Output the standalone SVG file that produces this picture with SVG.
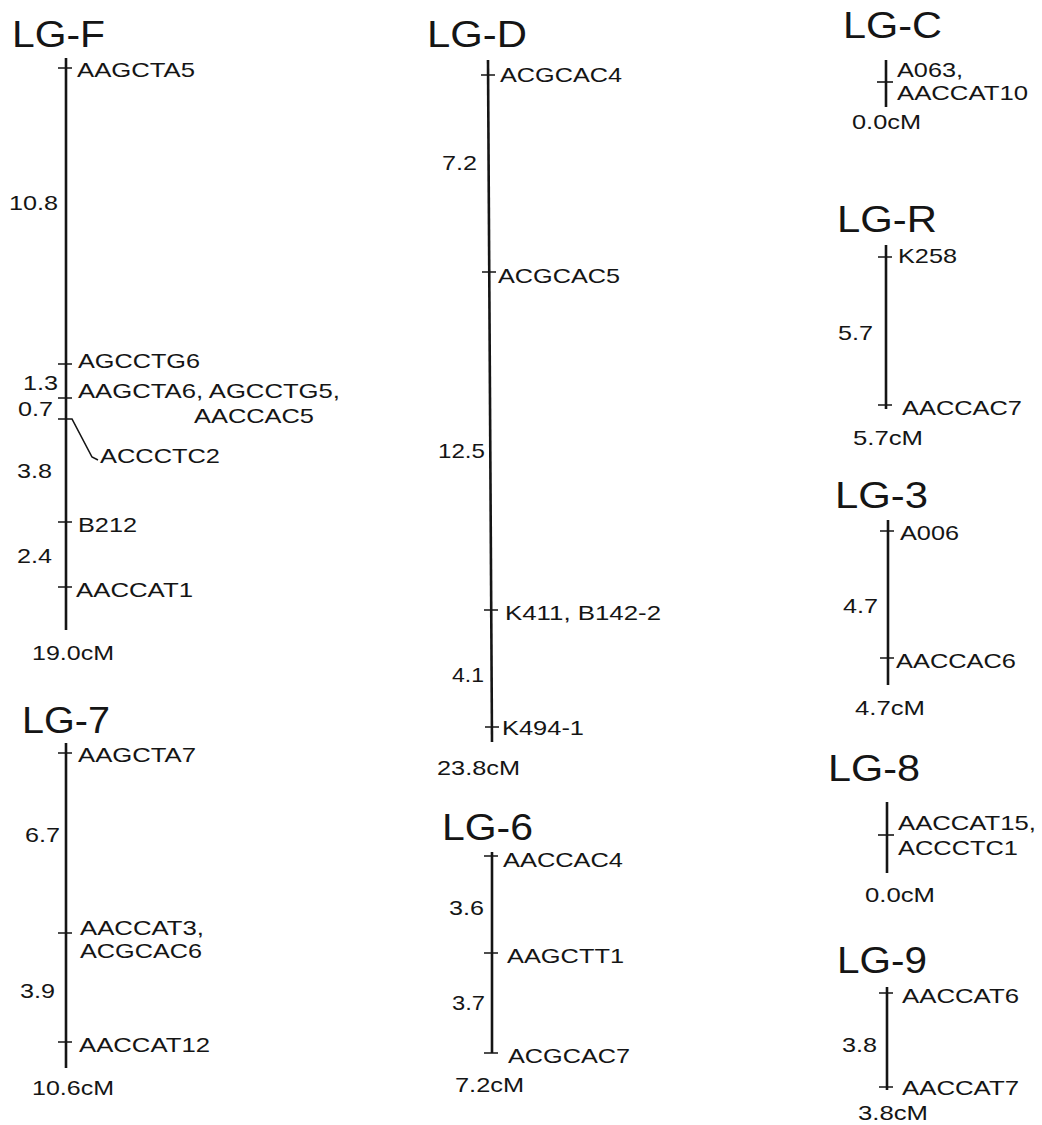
<svg xmlns="http://www.w3.org/2000/svg" width="1042" height="1125" viewBox="0 0 1042 1125">
<style>
text{font-family:"Liberation Sans",Arial,sans-serif;fill:#151515}
.t{font-size:37px}
.s{font-size:21px}
.ax{stroke:#151515;stroke-width:2.6;fill:none}
.tk{stroke:#151515;stroke-width:1.6;fill:none}
</style>
<rect width="1042" height="1125" fill="#fff"/>

<g id="LG-F">
<text class="t" x="12" y="47" textLength="93" lengthAdjust="spacingAndGlyphs">LG-F</text>
<line class="ax" x1="66" y1="58" x2="66" y2="630"/>
<path class="tk" d="M58 68H72M58 364H72M58 398H72M58 419H66M58 522H72M58 587H72"/>
<text class="s" x="77" y="77" textLength="118" lengthAdjust="spacingAndGlyphs">AAGCTA5</text>
<text class="s" x="9" y="210" textLength="49" lengthAdjust="spacingAndGlyphs">10.8</text>
<text class="s" x="78" y="368" textLength="122" lengthAdjust="spacingAndGlyphs">AGCCTG6</text>
<text class="s" x="23" y="390" textLength="35" lengthAdjust="spacingAndGlyphs">1.3</text>
<text class="s" x="78" y="398" textLength="262" lengthAdjust="spacingAndGlyphs">AAGCTA6, AGCCTG5,</text>
<text class="s" x="18" y="416" textLength="35" lengthAdjust="spacingAndGlyphs">0.7</text>
<text class="s" x="194" y="423" textLength="120" lengthAdjust="spacingAndGlyphs">AACCAC5</text>
<text class="s" x="100" y="463" textLength="120" lengthAdjust="spacingAndGlyphs">ACCCTC2</text>
<text class="s" x="17" y="478" textLength="35" lengthAdjust="spacingAndGlyphs">3.8</text>
<text class="s" x="78" y="532" textLength="59" lengthAdjust="spacingAndGlyphs">B212</text>
<text class="s" x="17" y="563" textLength="35" lengthAdjust="spacingAndGlyphs">2.4</text>
<text class="s" x="76" y="597" textLength="117" lengthAdjust="spacingAndGlyphs">AACCAT1</text>
<text class="s" x="32" y="660" textLength="82" lengthAdjust="spacingAndGlyphs">19.0cM</text>
</g>

<g id="LG-7">
<text class="t" x="22" y="733" textLength="88" lengthAdjust="spacingAndGlyphs">LG-7</text>
<line class="ax" x1="66" y1="743" x2="66" y2="1068"/>
<path class="tk" d="M58 753H72M58 933H72M58 1042H72"/>
<text class="s" x="78" y="762" textLength="118" lengthAdjust="spacingAndGlyphs">AAGCTA7</text>
<text class="s" x="25" y="842" textLength="35" lengthAdjust="spacingAndGlyphs">6.7</text>
<text class="s" x="80" y="935" textLength="124" lengthAdjust="spacingAndGlyphs">AACCAT3,</text>
<text class="s" x="80" y="958" textLength="122" lengthAdjust="spacingAndGlyphs">ACGCAC6</text>
<text class="s" x="20" y="998" textLength="35" lengthAdjust="spacingAndGlyphs">3.9</text>
<text class="s" x="79" y="1052" textLength="131" lengthAdjust="spacingAndGlyphs">AACCAT12</text>
<text class="s" x="32" y="1095" textLength="82" lengthAdjust="spacingAndGlyphs">10.6cM</text>
</g>

<g id="LG-D">
<text class="t" x="427" y="47" textLength="100" lengthAdjust="spacingAndGlyphs">LG-D</text>
<line class="ax" x1="488" y1="60" x2="492" y2="742"/>
<path class="tk" d="M481 75H495M482 272H496M484 610H498M485 727H499"/>
<text class="s" x="500" y="82" textLength="122" lengthAdjust="spacingAndGlyphs">ACGCAC4</text>
<text class="s" x="442" y="170" textLength="35" lengthAdjust="spacingAndGlyphs">7.2</text>
<text class="s" x="498" y="283" textLength="122" lengthAdjust="spacingAndGlyphs">ACGCAC5</text>
<text class="s" x="438" y="458" textLength="47" lengthAdjust="spacingAndGlyphs">12.5</text>
<text class="s" x="505" y="620" textLength="156" lengthAdjust="spacingAndGlyphs">K411, B142-2</text>
<text class="s" x="452" y="682" textLength="32" lengthAdjust="spacingAndGlyphs">4.1</text>
<text class="s" x="502" y="735" textLength="82" lengthAdjust="spacingAndGlyphs">K494-1</text>
<text class="s" x="437" y="775" textLength="83" lengthAdjust="spacingAndGlyphs">23.8cM</text>
</g>

<g id="LG-6">
<text class="t" x="442" y="840" textLength="91" lengthAdjust="spacingAndGlyphs">LG-6</text>
<line class="ax" x1="492" y1="852" x2="492" y2="1053"/>
<path class="tk" d="M484 856H498M484 953H498M484 1053H498"/>
<text class="s" x="503" y="867" textLength="120" lengthAdjust="spacingAndGlyphs">AACCAC4</text>
<text class="s" x="449" y="915" textLength="35" lengthAdjust="spacingAndGlyphs">3.6</text>
<text class="s" x="507" y="963" textLength="117" lengthAdjust="spacingAndGlyphs">AAGCTT1</text>
<text class="s" x="452" y="1010" textLength="33" lengthAdjust="spacingAndGlyphs">3.7</text>
<text class="s" x="508" y="1063" textLength="122" lengthAdjust="spacingAndGlyphs">ACGCAC7</text>
<text class="s" x="455" y="1092" textLength="69" lengthAdjust="spacingAndGlyphs">7.2cM</text>
</g>

<g id="LG-C">
<text class="t" x="843" y="38" textLength="99" lengthAdjust="spacingAndGlyphs">LG-C</text>
<line class="ax" x1="886" y1="60" x2="886" y2="107"/>
<path class="tk" d="M877 82H893"/>
<text class="s" x="897" y="77" textLength="66" lengthAdjust="spacingAndGlyphs">A063,</text>
<text class="s" x="897" y="100" textLength="131" lengthAdjust="spacingAndGlyphs">AACCAT10</text>
<text class="s" x="852" y="129" textLength="69" lengthAdjust="spacingAndGlyphs">0.0cM</text>
</g>

<g id="LG-R">
<text class="t" x="837" y="232" textLength="100" lengthAdjust="spacingAndGlyphs">LG-R</text>
<line class="ax" x1="886" y1="245" x2="886" y2="409"/>
<path class="tk" d="M878 257H892M878 405H892"/>
<text class="s" x="898" y="263" textLength="59" lengthAdjust="spacingAndGlyphs">K258</text>
<text class="s" x="838" y="340" textLength="35" lengthAdjust="spacingAndGlyphs">5.7</text>
<text class="s" x="902" y="415" textLength="120" lengthAdjust="spacingAndGlyphs">AACCAC7</text>
<text class="s" x="853" y="445" textLength="70" lengthAdjust="spacingAndGlyphs">5.7cM</text>
</g>

<g id="LG-3">
<text class="t" x="835" y="508" textLength="93" lengthAdjust="spacingAndGlyphs">LG-3</text>
<line class="ax" x1="888" y1="520" x2="888" y2="685"/>
<path class="tk" d="M880 531H894M880 658H894"/>
<text class="s" x="900" y="540" textLength="59" lengthAdjust="spacingAndGlyphs">A006</text>
<text class="s" x="843" y="613" textLength="35" lengthAdjust="spacingAndGlyphs">4.7</text>
<text class="s" x="896" y="668" textLength="120" lengthAdjust="spacingAndGlyphs">AACCAC6</text>
<text class="s" x="855" y="715" textLength="70" lengthAdjust="spacingAndGlyphs">4.7cM</text>
</g>

<g id="LG-8">
<text class="t" x="828" y="781" textLength="92" lengthAdjust="spacingAndGlyphs">LG-8</text>
<line class="ax" x1="887" y1="802" x2="887" y2="873"/>
<path class="tk" d="M878 835H894"/>
<text class="s" x="898" y="830" textLength="138" lengthAdjust="spacingAndGlyphs">AACCAT15,</text>
<text class="s" x="898" y="855" textLength="120" lengthAdjust="spacingAndGlyphs">ACCCTC1</text>
<text class="s" x="865" y="902" textLength="70" lengthAdjust="spacingAndGlyphs">0.0cM</text>
</g>

<g id="LG-9">
<text class="t" x="837" y="973" textLength="90" lengthAdjust="spacingAndGlyphs">LG-9</text>
<line class="ax" x1="887" y1="987" x2="887" y2="1090"/>
<path class="tk" d="M879 993H893M879 1087H893"/>
<text class="s" x="902" y="1003" textLength="117" lengthAdjust="spacingAndGlyphs">AACCAT6</text>
<text class="s" x="842" y="1052" textLength="35" lengthAdjust="spacingAndGlyphs">3.8</text>
<text class="s" x="902" y="1095" textLength="117" lengthAdjust="spacingAndGlyphs">AACCAT7</text>
<text class="s" x="858" y="1120" textLength="70" lengthAdjust="spacingAndGlyphs">3.8cM</text>
</g>

<g id="connectors">
<path class="tk" d="M66 419H72L92 457L98 460"/>
</g>
</svg>
